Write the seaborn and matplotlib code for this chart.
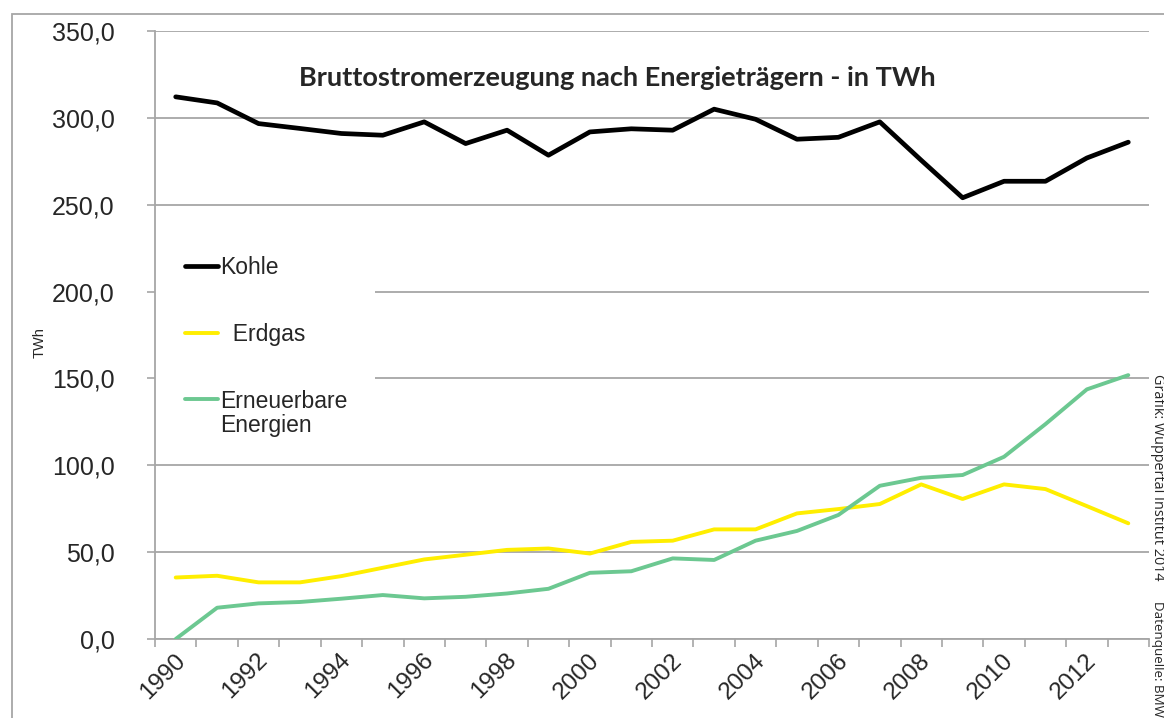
import numpy as np
import pandas as pd
import matplotlib
matplotlib.use("Agg")
import matplotlib.pyplot as plt
import matplotlib.ticker as mticker
from matplotlib.patches import Rectangle
from matplotlib.transforms import ScaledTranslation
from matplotlib.legend_handler import HandlerLine2D
import seaborn as sns

# ---- data ----
years = list(range(1990, 2014))
kohle = [312.1, 308.6, 296.7, 293.9, 291.0, 290.0, 297.7, 285.2, 292.9, 278.5,
         291.9, 293.7, 292.9, 305.0, 299.2, 287.7, 288.8, 297.7, 275.6, 254.0,
         263.5, 263.5, 276.9, 286.0]
erdgas = [35.4, 36.4, 32.6, 32.6, 36.2, 41.0, 45.8, 48.5, 51.3, 52.1,
          49.2, 55.9, 56.6, 63.1, 63.1, 72.3, 74.8, 77.7, 89.0, 80.6,
          89.0, 86.3, 76.5, 66.6]
erneuerbare = [0.0, 18.0, 20.5, 21.3, 23.2, 25.3, 23.4, 24.3, 26.2, 28.9,
               38.1, 39.0, 46.4, 45.5, 56.6, 62.2, 71.4, 88.2, 92.8, 94.4,
               104.9, 123.7, 143.7, 151.9]
series_names = ["Kohle", "  Erdgas", "Erneuerbare\nEnergien"]
series_colors = ["#000000", "#FFEE00", "#6CC891"]
series_widths = [3.4, 2.8, 2.8]
yticks = [0, 50, 100, 150, 200, 250, 300, 350]
xlabel_years = list(range(1990, 2013, 2))
title = "Bruttostromerzeugung nach Energieträgern - in TWh"
ylabel = "TWh"
credit1 = "Grafik: Wuppertal Institut 2014"
credit2 = "Datenquelle: BMWi"

df = pd.DataFrame({"Jahr": years * 3,
                   "TWh": kohle + erdgas + erneuerbare,
                   "Traeger": [series_names[0]] * 24 + [series_names[1]] * 24 + [series_names[2]] * 24})

sns.set_theme(style="white")
plt.rcParams["font.family"] = ["Liberation Sans", "DejaVu Sans"]

W, H = 1164, 718
fig = plt.figure(figsize=(W / 100, H / 100), dpi=100)
ax = fig.add_axes([155 / W, 1 - 639 / H, (1149 - 155) / W, (639 - 31) / H])

for name, col, lw in zip(series_names, series_colors, series_widths):
    sns.lineplot(data=df[df["Traeger"] == name], x="Jahr", y="TWh", color=col,
                 linewidth=lw, label=name, ax=ax, zorder=3)

ax.set_xlim(1989.5, 2013.5)
ax.set_ylim(0, 350)
ax.set_yticks(yticks)
ax.yaxis.set_major_formatter(mticker.FuncFormatter(lambda v, p: f"{v:.1f}".replace(".", ",")))
ax.yaxis.grid(True, color="#A6A6A6", linewidth=1.3, zorder=0)
ax.set_axisbelow(True)

ax.set_xticks(xlabel_years)
ax.set_xticklabels([str(y) for y in xlabel_years], rotation=45, ha="right",
                   rotation_mode="anchor", va="center")
ax.set_xticks(np.arange(1989.5, 2014.0, 1.0), minor=True)
ax.tick_params(axis="x", which="major", length=0, pad=13, labelsize=17.5)
ax.tick_params(axis="x", which="minor", length=6, width=1.2, color="#A6A6A6", direction="out", bottom=True)
ax.tick_params(axis="y", which="major", length=6, width=1.2, color="#A6A6A6", direction="out",
               left=True, labelsize=18, pad=23)
shift = ScaledTranslation(6 / 100, 0, fig.dpi_scale_trans)
for lab in ax.get_xticklabels():
    lab.set_transform(lab.get_transform() + shift)

for s in ["top", "right"]:
    ax.spines[s].set_visible(False)
for s in ["left", "bottom"]:
    ax.spines[s].set_color("#A6A6A6")
    ax.spines[s].set_linewidth(1.3)

ax.set_xlabel("")
ax.set_ylabel("")
fig.text(40 / W, 1 - 343 / H, ylabel, rotation=90, fontsize=10.5, ha="center", va="center")

ax.text(617 / W, 1 - 78 / H, title, transform=fig.transFigure, ha="center", va="center",
        fontsize=19.5, fontweight="bold", family=["Lato", "DejaVu Sans"])


class UpHandler(HandlerLine2D):
    def __init__(self, dy, **kw):
        super().__init__(**kw)
        self.dy = dy

    def create_artists(self, legend, orig_handle, xdescent, ydescent, width, height, fontsize, trans):
        arts = super().create_artists(legend, orig_handle, xdescent, ydescent, width, height, fontsize, trans)
        for a in arts:
            a.set_ydata(np.asarray(a.get_ydata(), dtype=float) + self.dy)
        return arts


# white legend background box (hides the gridlines behind the legend)
ax.add_patch(Rectangle((0, 0), 220 / W, (455 - 215) / H, transform=fig.transFigure + ScaledTranslation(0, 0, fig.dpi_scale_trans),
                       facecolor="white", edgecolor="none", zorder=1))
ax.patches[-1].set_xy((155 / W, 1 - 455 / H))

handles, labels = ax.get_legend_handles_labels()
leg = ax.legend(handles, labels, loc="upper left", bbox_to_anchor=(0.0, 1 - (226 - 31) / (639 - 31)),
                frameon=False, fontsize=16.5, handlelength=1.44, handletextpad=0.1,
                labelspacing=1.93, borderpad=1.3, borderaxespad=0.0,
                handler_map={handles[2]: UpHandler(11.5)})
for t in leg.get_texts():
    t.set_linespacing(1.05)
leg.set_zorder(5)

# outer chart frame
fig.patches.append(Rectangle((12 / W, -0.2), 1.3, (1 - 14 / H) + 0.2, transform=fig.transFigure,
                             fill=False, edgecolor="#A6A6A6", linewidth=1.3))

fig.text(1154 / W, 1 - 477 / H, credit1, rotation=-90, rotation_mode="anchor",
         ha="center", va="baseline", fontsize=10.4, family=["Open Sans", "DejaVu Sans"])
fig.text(1154 / W, 1 - 601 / H, credit2, rotation=-90, rotation_mode="anchor",
         ha="left", va="baseline", fontsize=9.6, family=["Open Sans", "DejaVu Sans"])

fig.savefig("out.png", dpi=100)
